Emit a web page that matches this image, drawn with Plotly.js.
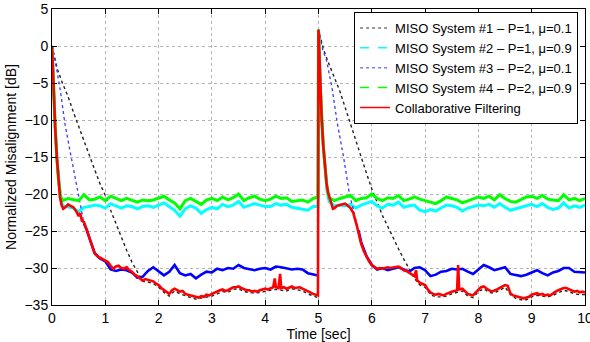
<!DOCTYPE html>
<html>
<head>
<meta charset="utf-8">
<script src="https://cdn.plot.ly/plotly-3.0.1.min.js"></script>
<style>html,body{margin:0;padding:0;background:#fff;}#chart{width:590px;height:342px;}</style>
</head>
<body>
<div id="chart"></div>
<script>
// ---- Data ----
const seriesNames = [
  "MISO System #1 \u2013 P=1, \u03bc=0.1",
  "MISO System #2 \u2013 P=1, \u03bc=0.9",
  "MISO System #3 \u2013 P=2, \u03bc=0.1",
  "MISO System #4 \u2013 P=2, \u03bc=0.9",
  "Collaborative Filtering"
];

// time grids for the fast (μ=0.9) systems
const tEarly = [0, 0.03, 0.06, 0.09, 0.12, 0.16];
const tA = [0.2,0.3,0.4,0.5,0.6,0.7,0.8,0.9,1.0,1.1,1.2,1.3,1.4,1.5,1.6,1.7,1.8,1.9,2.0,2.1,2.2,2.3,2.4,2.5,2.6,2.7,2.8,2.9,3.0,3.1,3.2,3.3,3.4,3.5,3.6,3.7,3.8,3.9,4.0,4.1,4.2,4.3,4.4,4.5,4.6,4.7,4.8,4.9];
const tJump = [4.99, 5.0, 5.03, 5.06, 5.09, 5.12, 5.16, 5.2];
const tB = [5.3,5.4,5.5,5.6,5.7,5.8,5.9,6.0,6.1,6.2,6.3,6.4,6.5,6.6,6.7,6.8,6.9,7.0,7.1,7.2,7.3,7.4,7.5,7.6,7.7,7.8,7.9,8.0,8.1,8.2,8.3,8.4,8.5,8.6,8.7,8.8,8.9,9.0,9.1,9.2,9.3,9.4,9.5,9.6,9.7,9.8,9.9,10.0];

// MISO #4 (green)
const greenEarly = [0, -6, -11, -15, -18, -20.3];
const greenA = [-20.9,-20.6,-20.7,-20.9,-20.1,-20.8,-20.7,-20.4,-20.9,-20.3,
  -20.6,-20.9,-20.6,-20.9,-21.1,-20.8,-20.9,-20.8,-20.6,-20.3,
  -20.8,-21.2,-22.0,-20.9,-20.6,-21.0,-21.4,-20.8,-20.6,-20.9,
  -20.4,-20.8,-20.5,-20.0,-20.9,-20.5,-20.3,-20.7,-20.9,-20.7,
  -20.3,-20.6,-20.5,-21.0,-20.9,-20.8,-21.1,-20.6];
const greenJump = [-20.4, 2.2, -5, -10, -13.5, -16, -19.2, -20.5];
const greenB = [-20.9,-20.6,-20.4,-20.2,-20.9,-20.6,-20.5,-20.0,-20.6,-20.9,
  -20.5,-20.6,-20.2,-20.9,-20.7,-20.4,-20.7,-20.9,-21.1,-21.3,
  -20.9,-20.4,-20.6,-20.8,-21.2,-20.9,-20.7,-20.4,-20.6,-20.3,
  -20.8,-20.1,-20.6,-21.0,-21.1,-20.8,-20.4,-20.3,-20.6,-20.2,
  -20.7,-20.8,-20.9,-20.1,-20.8,-20.6,-20.9,-20.6];

// MISO #2 (cyan)
const cyanEarly = [0, -6, -11, -15, -18, -20.6];
const cyanA = [-21.6,-21.7,-21.9,-22.4,-21.8,-21.7,-21.5,-21.6,-21.9,-21.3,
  -21.6,-21.9,-21.6,-21.7,-22.0,-21.7,-21.6,-21.8,-21.5,-21.2,
  -21.7,-22.2,-23.0,-22.0,-21.6,-21.9,-22.6,-22.1,-21.8,-22.0,
  -21.4,-21.7,-21.5,-21.0,-21.8,-21.6,-21.3,-21.5,-21.7,-21.7,
  -21.3,-21.5,-21.4,-21.8,-21.9,-22.0,-22.2,-21.7];
const cyanJump = [-21.7, 2.2, -5, -10, -13.5, -16, -19.5, -21.0];
const cyanB = [-21.6,-21.5,-21.6,-21.4,-21.9,-21.5,-21.3,-21.0,-21.6,-21.9,
  -21.4,-21.5,-21.1,-21.8,-21.6,-21.5,-22.2,-22.4,-22.1,-22.3,
  -21.9,-21.5,-21.6,-21.8,-22.3,-21.9,-21.7,-21.5,-21.6,-21.4,
  -21.8,-21.3,-21.8,-22.2,-22.0,-21.8,-21.5,-21.4,-21.7,-21.3,
  -21.8,-22.1,-21.9,-21.2,-21.9,-21.6,-21.8,-21.5];

// MISO #3 (blue) [time, dB]
const bluePts = [[0,0],[0.08,-2.8],[0.16,-6.2],[0.24,-10.4],[0.32,-13.5],[0.4,-16.5],[0.46,-18.6],[0.5,-20.3],[0.55,-22.3],[0.6,-24.0],[0.65,-24.8],[0.7,-25.9],[0.8,-28.0],[0.9,-28.7],
  [1.0,-29.1],[1.1,-30.2],[1.2,-30.4],[1.3,-30.2],[1.4,-30.3],[1.5,-30.6],[1.6,-31.3],[1.7,-31.2],[1.8,-30.4],[1.9,-29.9],
  [2.0,-30.5],[2.1,-31.0],[2.2,-30.5],[2.3,-29.6],[2.4,-30.7],[2.5,-31.0],[2.6,-30.8],[2.7,-31.4],[2.8,-30.9],[2.9,-30.5],
  [3.0,-30.6],[3.1,-30.1],[3.2,-30.3],[3.3,-30.0],[3.4,-30.1],[3.5,-29.6],[3.6,-30.0],[3.7,-30.2],[3.8,-30.3],[3.9,-30.1],
  [4.0,-30.0],[4.1,-30.2],[4.2,-29.8],[4.3,-29.9],[4.4,-30.0],[4.5,-30.2],[4.6,-30.1],[4.7,-30.2],[4.8,-30.7],[4.9,-30.9],[4.99,-31.0],
  [5.0,2.2],[5.08,-0.5],[5.15,-1.9],[5.25,-5.5],[5.35,-10.3],[5.47,-15.0],[5.58,-20.0],[5.65,-22.0],[5.7,-23.5],[5.75,-24.9],[5.8,-26.5],[5.9,-28.4],
  [6.0,-29.6],[6.1,-30.2],[6.2,-30.0],[6.3,-30.3],[6.4,-30.1],[6.5,-29.9],[6.6,-30.2],[6.7,-30.5],[6.8,-30.0],[6.9,-29.9],
  [7.0,-30.3],[7.1,-31.1],[7.2,-30.9],[7.3,-30.5],[7.4,-30.4],[7.5,-30.1],[7.6,-30.2],[7.7,-30.1],[7.8,-30.5],[7.9,-30.8],
  [8.0,-30.2],[8.1,-29.6],[8.2,-29.9],[8.3,-30.3],[8.4,-30.1],[8.5,-29.9],[8.6,-30.8],[8.7,-30.9],[8.8,-31.1],[8.9,-30.9],
  [9.0,-30.6],[9.1,-30.3],[9.2,-30.7],[9.3,-31.0],[9.4,-30.6],[9.5,-30.4],[9.6,-30.0],[9.7,-30.0],[9.8,-30.5],[9.9,-30.6],[10.0,-30.6]];

// MISO #1 (black) [time, dB]
const blackPts = [[0,0],[0.05,-1.5],[0.1,-3.1],[0.2,-5.1],[0.3,-6.8],[0.4,-8.9],[0.5,-10.9],[0.6,-12.8],[0.7,-14.8],[0.8,-16.7],[0.9,-18.6],
  [1.0,-20.2],[1.1,-22.2],[1.2,-24.0],[1.3,-25.9],[1.4,-27.6],[1.5,-29.2],[1.6,-30.6],[1.7,-31.8],[1.8,-31.9],[1.9,-32.1],
  [2.0,-32.6],[2.1,-33.3],[2.2,-33.8],[2.3,-33.1],[2.4,-33.5],[2.5,-33.8],[2.6,-34.0],[2.7,-34.2],[2.8,-34.1],[2.9,-33.9],
  [3.0,-33.8],[3.1,-33.5],[3.2,-33.2],[3.3,-33.3],[3.4,-32.9],[3.5,-32.8],[3.6,-33.2],[3.7,-33.3],[3.8,-33.4],[3.9,-33.3],
  [4.0,-33.1],[4.1,-33.0],[4.2,-32.9],[4.3,-33.0],[4.4,-33.1],[4.5,-32.8],[4.6,-32.9],[4.7,-33.1],[4.8,-33.5],[4.9,-33.8],[4.99,-34.0],
  [5.0,2.2],[5.1,-0.6],[5.2,-2.5],[5.3,-4.2],[5.4,-6.1],[5.5,-8.3],[5.6,-10.6],[5.7,-12.8],[5.8,-15.0],[5.9,-17.2],
  [6.0,-19.3],[6.1,-21.2],[6.2,-22.9],[6.3,-24.4],[6.4,-26.0],[6.5,-27.4],[6.6,-28.8],[6.7,-30.2],[6.8,-31.4],[6.9,-32.3],
  [7.0,-32.6],[7.1,-33.6],[7.2,-33.9],[7.3,-33.9],[7.4,-33.8],[7.5,-33.5],[7.6,-33.3],[7.7,-33.1],[7.8,-33.8],[7.9,-34.0],
  [8.0,-33.2],[8.1,-32.8],[8.2,-33.3],[8.3,-33.4],[8.4,-33.0],[8.5,-32.6],[8.6,-33.6],[8.7,-34.1],[8.8,-34.3],[8.9,-34.3],
  [9.0,-33.9],[9.1,-33.7],[9.2,-33.8],[9.3,-33.9],[9.4,-33.7],[9.5,-33.3],[9.6,-33.0],[9.7,-33.2],[9.8,-33.5],[9.9,-33.6],[10.0,-33.6]];

// Collaborative filtering (red) [time, dB]
const redPts = [[0,0],[0.03,-6],[0.06,-11],[0.09,-15],[0.12,-18.2],[0.15,-20.4],[0.18,-21.5],[0.21,-22.0],[0.25,-21.8],[0.3,-21.4],[0.35,-21.6],[0.4,-21.8],[0.45,-22.3],
  [0.5,-23.0],[0.53,-22.6],[0.56,-23.6],[0.6,-23.8],[0.64,-24.6],[0.68,-25.4],[0.72,-26.3],[0.76,-27.2],[0.8,-28.0],[0.85,-28.4],[0.9,-28.6],[0.95,-28.8],
  [1.0,-28.9],[1.05,-29.2],[1.1,-29.7],[1.15,-30.1],[1.2,-29.8],[1.25,-29.7],[1.3,-30.0],[1.35,-30.1],[1.4,-29.9],[1.45,-30.3],
  [1.5,-30.5],[1.55,-30.9],[1.6,-31.1],[1.65,-31.4],[1.7,-31.7],[1.75,-31.5],[1.8,-31.6],[1.85,-31.7],[1.9,-31.8],[1.95,-32.1],
  [2.0,-32.3],[2.05,-32.7],[2.1,-33.0],[2.15,-33.3],[2.2,-33.5],[2.25,-33.0],[2.3,-32.8],[2.35,-33.0],[2.4,-33.2],[2.45,-33.1],
  [2.5,-33.5],[2.55,-33.6],[2.6,-33.7],[2.65,-33.8],[2.7,-33.9],[2.75,-34.0],[2.8,-33.8],[2.85,-33.9],[2.9,-33.6],[2.95,-33.7],
  [3.0,-33.5],[3.05,-33.3],[3.1,-33.2],[3.15,-33.0],[3.2,-32.9],[3.25,-33.1],[3.3,-33.0],[3.35,-32.8],[3.4,-32.6],[3.45,-32.6],
  [3.5,-32.5],[3.55,-32.7],[3.6,-32.9],[3.65,-33.0],[3.7,-33.0],[3.75,-33.2],[3.8,-33.1],[3.85,-33.2],[3.9,-33.0],[3.95,-32.9],
  [4.0,-32.8],[4.05,-32.9],[4.1,-32.7],[4.15,-32.6],[4.18,-31.4],[4.2,-32.6],[4.25,-32.7],[4.28,-30.8],[4.3,-32.7],[4.35,-32.6],
  [4.4,-32.8],[4.45,-32.6],[4.5,-32.5],[4.55,-32.7],[4.6,-32.6],[4.65,-32.6],[4.7,-32.8],[4.75,-33.0],[4.8,-33.2],[4.85,-33.3],
  [4.9,-33.5],[4.95,-33.6],[4.99,-33.7],[5.0,2.2],
  [5.03,-5],[5.06,-10],[5.09,-13.5],[5.12,-16],[5.15,-18.5],[5.18,-19.8],[5.21,-20.5],[5.24,-21.4],[5.27,-22.0],[5.3,-21.9],
  [5.35,-21.6],[5.4,-21.5],[5.45,-21.4],[5.5,-21.3],[5.55,-21.6],[5.6,-21.9],[5.65,-22.5],[5.68,-23.1],[5.7,-23.8],[5.72,-24.3],
  [5.74,-24.9],[5.77,-25.8],[5.8,-26.7],[5.85,-27.7],[5.9,-28.5],[5.95,-29.1],[6.0,-29.6],[6.05,-29.9],[6.1,-30.1],[6.15,-30.0],
  [6.2,-30.1],[6.25,-30.0],[6.3,-29.9],[6.35,-30.0],[6.4,-29.9],[6.45,-29.8],[6.5,-29.8],[6.55,-30.0],[6.6,-30.3],[6.65,-30.4],
  [6.7,-30.6],[6.75,-30.9],[6.8,-31.1],[6.83,-30.3],[6.85,-31.6],[6.9,-32.0],[6.95,-32.2],[7.0,-32.3],[7.05,-32.9],[7.1,-33.3],
  [7.15,-33.5],[7.2,-33.6],[7.25,-33.5],[7.3,-33.6],[7.35,-33.7],[7.4,-33.5],[7.45,-33.3],[7.5,-33.2],[7.55,-33.1],[7.6,-33.0],
  [7.62,-29.6],[7.64,-32.9],[7.7,-32.8],[7.75,-33.2],[7.8,-33.5],[7.85,-33.6],[7.9,-33.7],[7.95,-33.3],[8.0,-32.9],[8.05,-32.6],
  [8.1,-32.5],[8.15,-32.8],[8.2,-33.0],[8.25,-33.2],[8.3,-33.1],[8.35,-32.9],[8.4,-32.7],[8.45,-32.5],[8.5,-32.3],[8.55,-32.4],
  [8.6,-33.4],[8.65,-33.7],[8.7,-33.8],[8.75,-33.9],[8.8,-34.0],[8.85,-34.1],[8.9,-34.0],[8.95,-33.9],[9.0,-33.6],[9.05,-33.5],
  [9.1,-33.4],[9.15,-33.6],[9.2,-33.5],[9.25,-33.7],[9.3,-33.6],[9.35,-33.7],[9.4,-33.4],[9.45,-33.2],[9.5,-33.0],[9.55,-32.8],
  [9.6,-32.7],[9.65,-32.7],[9.7,-32.9],[9.75,-33.1],[9.8,-33.2],[9.85,-33.1],[9.9,-33.3],[9.95,-33.2],[10.0,-33.3]];

const xTicks = [0,1,2,3,4,5,6,7,8,9,10];
const yTicks = [-35,-30,-25,-20,-15,-10,-5,0,5];

// ---- Build traces ----
const colors = ["#000000", "#00ffff", "#0000ff", "#00ff00", "#ff0000"];
const tG = tEarly.concat(tA, tJump, tB);
const green = greenEarly.concat(greenA, greenJump, greenB);
const cyan = cyanEarly.concat(cyanA, cyanJump, cyanB);
const xs = p => p.map(d => d[0]);
const ys = p => p.map(d => d[1]);
// blue: dotted during the descents, solid (dense noise) when converged
const isDescent = t => (t < 0.6) || (t >= 5.0 && t < 5.75);
const blueDotY = bluePts.map(d => (isDescent(d[0]) || d[0] === 0.6 || d[0] === 5.75) ? d[1] : null);
const blueSolidY = bluePts.map(d => (d[0] === 5.0 || (isDescent(d[0]) && d[0] !== 5.0)) ? null : d[1]);

const font = "Liberation Sans, Arial, Helvetica, sans-serif";
const traces = [
  {x: xs(blackPts), y: ys(blackPts), mode: "lines", line: {color: "#222", width: 1.4, dash: "dot"}, showlegend: false},
  {x: tG, y: cyan, mode: "lines", line: {color: colors[1], width: 3}, showlegend: false},
  {x: xs(bluePts), y: blueDotY, mode: "lines", line: {color: "#3a3aff", width: 1.3, dash: "dot"}, showlegend: false, connectgaps: false},
  {x: xs(bluePts), y: blueSolidY, mode: "lines", line: {color: colors[2], width: 2.6}, showlegend: false, connectgaps: false},
  {x: tG, y: green, mode: "lines", line: {color: colors[3], width: 3}, showlegend: false},
  {x: xs(redPts), y: ys(redPts), mode: "lines", line: {color: colors[4], width: 2.6}, showlegend: false},
  // legend entries
  {x: [null], y: [null], mode: "lines", name: seriesNames[0], line: {color: "#777", width: 1.5, dash: "dot"}},
  {x: [null], y: [null], mode: "lines", name: seriesNames[1], line: {color: colors[1], width: 1.5, dash: "dash"}},
  {x: [null], y: [null], mode: "lines", name: seriesNames[2], line: {color: "#7777ff", width: 1.5, dash: "dot"}},
  {x: [null], y: [null], mode: "lines", name: seriesNames[3], line: {color: colors[3], width: 1.5, dash: "dash"}},
  {x: [null], y: [null], mode: "lines", name: seriesNames[4], line: {color: colors[4], width: 1.5}}
];

const axisCommon = {
  ticks: "inside", ticklen: 5, tickcolor: "#000", mirror: "allticks",
  showline: true, linecolor: "#000", linewidth: 1,
  showgrid: true, gridcolor: "#b5b5b5", griddash: "dot", gridwidth: 1,
  zeroline: false, tickfont: {size: 14, color: "#000", family: font}
};

const layout = {
  width: 590, height: 342,
  margin: {l: 52, r: 5, t: 9, b: 37},
  paper_bgcolor: "#fff", plot_bgcolor: "#fff",
  font: {family: font, color: "#000"},
  xaxis: Object.assign({}, axisCommon, {
    range: [0, 10], tickvals: xTicks, ticktext: xTicks.map(String), ticklabeloverflow: "allow",
    title: {text: "Time [sec]", font: {size: 14, family: font, color: "#000"}, standoff: 2}
  }),
  yaxis: Object.assign({}, axisCommon, {
    range: [-35, 5], tickvals: yTicks,
    title: {text: "Normalized Misalignment [dB]", font: {size: 14, family: font, color: "#000"}, standoff: 4}
  }),
  showlegend: true,
  legend: {
    x: 0.987, xanchor: "right", y: 0.99, yanchor: "top",
    bgcolor: "#fff", bordercolor: "#000", borderwidth: 1,
    font: {size: 13, family: font, color: "#000"},
    tracegroupgap: 0, itemwidth: 30
  }
};

Plotly.newPlot("chart", traces, layout, {staticPlot: true, displayModeBar: false});
</script>
</body>
</html>
